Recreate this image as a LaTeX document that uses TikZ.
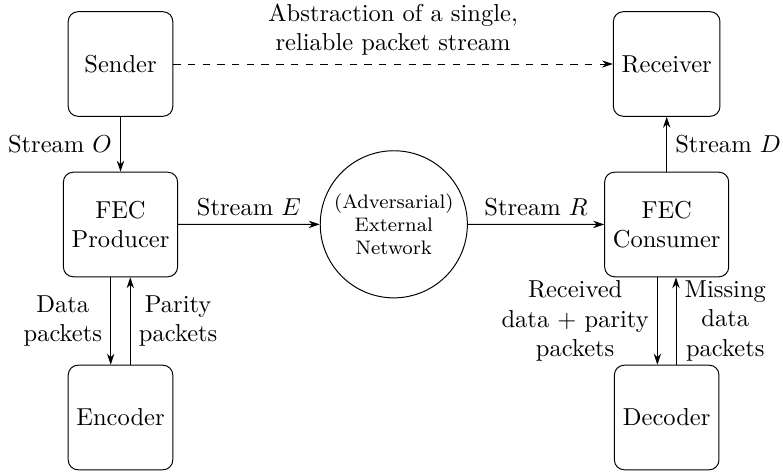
\documentclass[tikz,border=0pt]{standalone}
\usetikzlibrary{calc,arrows.meta}
\begin{document}
\begin{tikzpicture}[x=0.014347cm,y=-0.014347cm,
  box/.style={draw,rounded corners=4pt,minimum width=1.5cm,minimum height=1.5cm,align=center},
  net/.style={draw,circle,minimum size=2.11cm,align=center,font=\footnotesize,inner sep=1pt},
  arr/.style={-{Stealth[length=4.5pt,width=3pt]}},
  lbl/.style={align=center}]
\useasboundingbox (0,0) rectangle (783,472);
\node[box] (sender) at (120.5,64) {Sender};
\node[box] (prod) at (120.5,224.5) {FEC\\Producer};
\node[box] (enc) at (120.5,417.5) {Encoder};
\node[net] (net) at (393.8,224.3) {(Adversarial)\\External\\Network};
\node[box] (recv) at (666.7,64) {Receiver};
\node[box] (cons) at (666.7,224.5) {FEC\\Consumer};
\node[box] (dec) at (666.7,417.5) {Decoder};
\draw[arr] (sender) -- node[left]{Stream $O$} (prod);
\draw[arr] (prod) -- node[above]{Stream $E$} (net);
\draw[arr] (net) -- node[above]{Stream $R$} (cons);
\draw[arr] (cons) -- node[right]{Stream $D$} (recv);
\draw[arr,dashed] (sender) -- node[above,lbl]{Abstraction of a single,\\reliable packet stream} (recv);
\draw[arr] ($(prod.south)+(-9.8,0)$) -- node[left,lbl]{Data\\packets} ($(enc.north)+(-9.8,0)$);
\draw[arr] ($(enc.north)+(9.8,0)$) -- node[right,lbl]{Parity\\packets} ($(prod.south)+(9.8,0)$);
\draw[arr] ($(cons.south)+(-9.3,0)$) -- node[left,lbl]{Received\\data + parity\\packets} ($(dec.north)+(-9.3,0)$);
\draw[arr] ($(dec.north)+(9.3,0)$) -- node[right,lbl]{Missing\\data\\packets} ($(cons.south)+(9.3,0)$);
\end{tikzpicture}
\end{document}
